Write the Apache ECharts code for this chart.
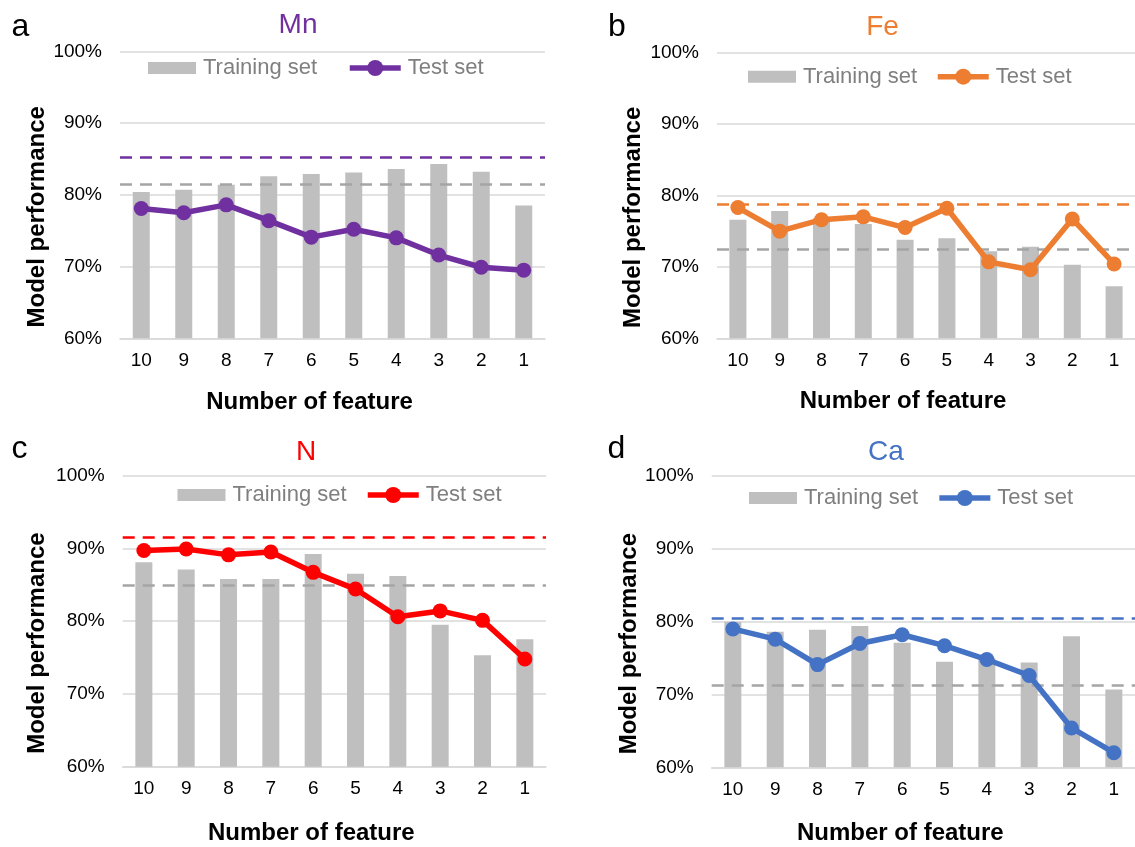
<!DOCTYPE html>
<html>
<head>
<meta charset="utf-8">
<script src="https://cdn.jsdelivr.net/npm/echarts@6/dist/echarts.min.js"></script>
<style>
html,body{margin:0;padding:0;background:#fff;}
#chart{width:1135px;height:847px;}
</style>
</head>
<body>
<div id="chart"></div>
<script>
// ---------------- data ----------------
const categories = ['10', '9', '8', '7', '6', '5', '4', '3', '2', '1'];

const mnTrain = [80.4, 80.7, 81.4, 82.6, 82.9, 83.1, 83.6, 84.3, 83.2, 78.5];
const mnTest  = [78.1, 77.5, 78.6, 76.4, 74.1, 75.2, 74.0, 71.6, 69.9, 69.5];
const mnRefTrain = 81.5;
const mnRefTest  = 85.25;

const feTrain = [76.6, 77.8, 76.8, 76.0, 73.8, 74.0, 72.2, 72.8, 70.3, 67.3];
const feTest  = [78.3, 75.0, 76.6, 77.0, 75.5, 78.2, 70.7, 69.6, 76.7, 70.4];
const feRefTrain = 72.5;
const feRefTest  = 78.7;

const nTrain = [88.1, 87.1, 85.8, 85.8, 89.2, 86.5, 86.2, 79.5, 75.3, 77.5];
const nTest  = [89.7, 89.9, 89.1, 89.5, 86.7, 84.4, 80.6, 81.4, 80.1, 74.8];
const nRefTrain = 84.9;
const nRefTest  = 91.5;

const caTrain = [80.0, 78.6, 78.9, 79.4, 77.1, 74.5, 75.0, 74.4, 78.0, 70.7];
const caTest  = [79.0, 77.6, 74.1, 77.0, 78.2, 76.7, 74.8, 72.6, 65.4, 62.0];
const caRefTrain = 71.3;
const caRefTest  = 80.5;

const panelLetters = ['a', 'b', 'c', 'd'];
const panelTitles = ['Mn', 'Fe', 'N', 'Ca'];
const yMin = 60, yMax = 100, yStep = 10;
const trainName = 'Training set';
const testName = 'Test set';
const xAxisName = 'Number of feature';
const yAxisName = 'Model performance';

// ---------------- styles / layout ----------------
const FONT = "'Liberation Sans', Arial, Helvetica, sans-serif";
const panels = [
  {train: mnTrain, test: mnTest, refTrain: mnRefTrain, refTest: mnRefTest, color: '#7030A0'},
  {train: feTrain, test: feTest, refTrain: feRefTrain, refTest: feRefTest, color: '#ED7D31'},
  {train: nTrain,  test: nTest,  refTrain: nRefTrain,  refTest: nRefTest,  color: '#FF0000'},
  {train: caTrain, test: caTest, refTrain: caRefTrain, refTest: caRefTest, color: '#4472C4'}
];
const layout = [
  {grid: {left: 120,   top: 51.3,  width: 425,   height: 287},   letter: [20.5, 27],  title: [298, 25],   legBar: 148,   legLine: 347,   legY: 68,   yGap: 70,   xGap: 52},
  {grid: {left: 717,   top: 52.5,  width: 425,   height: 285.8}, letter: [617, 27],   title: [882.5, 27.5], legBar: 748, legLine: 935,   legY: 76.7, yGap: 72,   xGap: 51.4},
  {grid: {left: 122.7, top: 475.5, width: 423.3, height: 291.2}, letter: [19.6, 449], title: [306, 452],  legBar: 177.5, legLine: 365,   legY: 495,  yGap: 73,   xGap: 54.3},
  {grid: {left: 711.7, top: 476,   width: 428.3, height: 291.3}, letter: [616.5, 449], title: [886, 452], legBar: 749,   legLine: 936.6, legY: 498,  yGap: 66.7, xGap: 53.7}
];

const grids = [], xAxes = [], yAxes = [], series = [], legends = [], graphics = [];
panels.forEach((p, i) => {
  const L = layout[i];
  const tag = '|' + panelLetters[i];
  grids.push(Object.assign({containLabel: false}, L.grid));
  xAxes.push({
    type: 'category', gridIndex: i, data: categories,
    axisLine: {show: true, lineStyle: {color: '#D9D9D9', width: 1.5}},
    axisTick: {show: false},
    axisLabel: {fontSize: 19, color: '#000', fontFamily: FONT, margin: 13},
    name: xAxisName, nameLocation: 'middle', nameGap: L.xGap,
    nameTextStyle: {fontSize: 24, fontWeight: 'bold', color: '#000', fontFamily: FONT, padding: [0, 46, 0, 0]}
  });
  yAxes.push({
    type: 'value', gridIndex: i, min: yMin, max: yMax, interval: yStep,
    axisLine: {show: false}, axisTick: {show: false},
    splitLine: {show: true, lineStyle: {color: '#D9D9D9', width: 1.5}},
    axisLabel: {fontSize: 19, color: '#000', fontFamily: FONT, margin: 18, formatter: '{value}%'},
    name: yAxisName, nameLocation: 'middle', nameGap: L.yGap,
    nameTextStyle: {fontSize: 24, fontWeight: 'bold', color: '#000', fontFamily: FONT, padding: [0, 44, 0, 0]}
  });
  series.push({
    type: 'bar', name: trainName + tag, xAxisIndex: i, yAxisIndex: i,
    data: p.train, barWidth: 17, z: 2,
    itemStyle: {color: '#BFBFBF'},
    emphasis: {disabled: true},
    markLine: {
      silent: true, symbol: 'none', z: 3, label: {show: false},
      lineStyle: {color: '#A5A5A5', type: [12, 8], width: 2.5},
      emphasis: {disabled: true},
      data: [{yAxis: p.refTrain}]
    }
  });
  series.push({
    type: 'line', name: testName + tag, xAxisIndex: i, yAxisIndex: i,
    data: p.test, symbol: 'circle', symbolSize: 15, z: 10,
    lineStyle: {color: p.color, width: 5.5},
    itemStyle: {color: p.color},
    emphasis: {disabled: true},
    markLine: {
      silent: true, symbol: 'none', z: 3, label: {show: false},
      lineStyle: {color: p.color, type: [12, 8], width: 2.5},
      emphasis: {disabled: true},
      data: [{yAxis: p.refTest}]
    }
  });
  const legText = {fontSize: 22, color: '#7F7F7F', fontFamily: FONT, padding: [0, 0, 0, 2]};
  legends.push({
    left: L.legBar, top: L.legY - 11, padding: 0, itemGap: 0,
    itemWidth: 48, itemHeight: 12, icon: 'rect', selectedMode: false,
    data: [trainName + tag], textStyle: legText,
    formatter: n => n.split('|')[0]
  });
  legends.push({
    left: L.legLine, top: L.legY - 11, padding: 0, itemGap: 0,
    itemWidth: 51, itemHeight: 20, selectedMode: false,
    lineStyle: {width: 5.5},
    data: [testName + tag], textStyle: legText,
    formatter: n => n.split('|')[0]
  });
  graphics.push({
    type: 'text', x: L.letter[0], y: L.letter[1],
    style: {text: panelLetters[i], font: '32px ' + FONT, fill: '#000', align: 'center', verticalAlign: 'middle'}
  });
  graphics.push({
    type: 'text', x: L.title[0], y: L.title[1],
    style: {text: panelTitles[i], font: '28px ' + FONT, fill: p.color, align: 'center', verticalAlign: 'middle'}
  });
});

const chart = echarts.init(document.getElementById('chart'), null, {renderer: 'canvas'});
chart.setOption({
  animation: false,
  backgroundColor: '#fff',
  grid: grids,
  xAxis: xAxes,
  yAxis: yAxes,
  legend: legends,
  series: series,
  graphic: graphics
});
</script>
</body>
</html>
